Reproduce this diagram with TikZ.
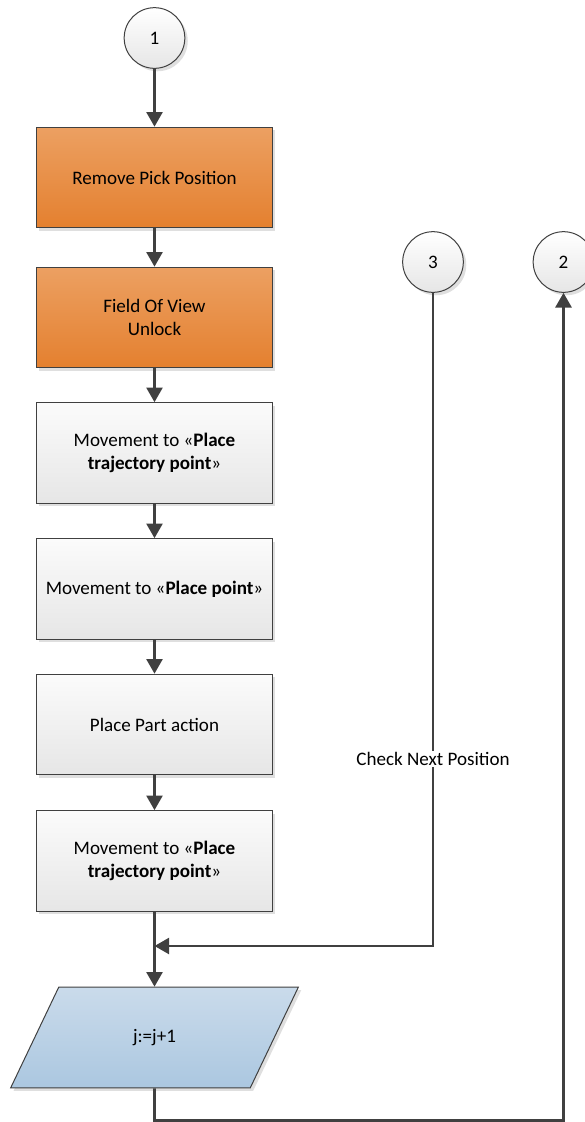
\documentclass[tikz,border=0pt]{standalone}
\usepackage{fontspec}
\setmainfont{Carlito}
\usepackage{tikz}
\usetikzlibrary{shapes.geometric, arrows.meta, shadows}

\definecolor{lineGray}{RGB}{64,64,64}
\definecolor{orangeTop}{RGB}{236,160,98}
\definecolor{orangeBot}{RGB}{228,128,47}
\definecolor{boxTop}{RGB}{251,251,251}
\definecolor{boxBot}{RGB}{230,230,230}
\definecolor{blueTop}{RGB}{202,219,235}
\definecolor{blueBot}{RGB}{171,199,224}

\tikzset{
  base/.style={draw=lineGray, line width=0.75pt, align=center,
               font=\fontsize{14.3}{17.5}\selectfont,
               drop shadow={shadow xshift=2.2pt, shadow yshift=-2.2pt, fill=black!25, opacity=0.5}},
  orangebox/.style={base, rectangle, minimum width=177pt, minimum height=75.5pt,
                    top color=orangeTop, bottom color=orangeBot},
  graybox/.style={base, rectangle, minimum width=177pt, minimum height=75.5pt,
                  top color=boxTop, bottom color=boxBot},
  connector/.style={base, circle, minimum size=45.5pt, inner sep=0pt,
                    top color=white, bottom color=boxBot},
  iobox/.style={base, trapezium, trapezium left angle=62.8, trapezium right angle=117.2,
                trapezium stretches=true, minimum width=216.5pt, minimum height=75.5pt,
                top color=blueTop, bottom color=blueBot},
  flow/.style={draw=lineGray, line width=2pt, -{Triangle[width=12pt, length=11pt]}},
  wire/.style={draw=lineGray, line width=2pt},
  lbl/.style={fill=white, inner sep=1pt, font=\fontsize{14.3}{17.5}\selectfont}
}

\begin{document}
\begin{tikzpicture}[x=0.75pt, y=-0.75pt]
  \useasboundingbox (0,0) rectangle (585,1122);

  % main column
  \node[connector] (c1) at (154.5,38) {1};
  \node[orangebox] (removePick) at (154.5,177.5) {Remove Pick Position};
  \node[orangebox] (fovUnlock) at (154.5,317.5) {Field Of View\\Unlock};
  \node[graybox] (moveTraj) at (154.5,453) {Movement to «\textbf{Place}\\\textbf{trajectory point}»};
  \node[graybox] (movePlace) at (154.5,589) {Movement to «\textbf{Place point}»};
  \node[graybox] (placePart) at (154.5,724.5) {Place Part action};
  \node[graybox] (moveTrajBack) at (154.5,861) {Movement to «\textbf{Place}\\\textbf{trajectory point}»};
  \node[iobox] (incJ) at (154.5,1037.5) {j:=j+1};

  % side connectors
  \node[connector] (c3) at (433,262) {3};
  \node[connector] (c2) at (563.5,262) {2};
  \node[lbl] (checkNext) at (433,759) {Check Next Position};

  \coordinate (merge) at (154.5,946);
  \coordinate (loopEnd) at (154.5,1120.5);

  \draw[flow] (c1) -- (removePick);
  \draw[flow] (removePick) -- (fovUnlock);
  \draw[flow] (fovUnlock) -- (moveTraj);
  \draw[flow] (moveTraj) -- (movePlace);
  \draw[flow] (movePlace) -- (placePart);
  \draw[flow] (placePart) -- (moveTrajBack);
  \draw[flow] (moveTrajBack) -- (incJ);

  \draw[wire] (c3) -- (checkNext);
  \draw[flow] (checkNext) |- (merge);
  \draw[flow] (incJ.south) -- (loopEnd) -| (c2.south);
\end{tikzpicture}
\end{document}
